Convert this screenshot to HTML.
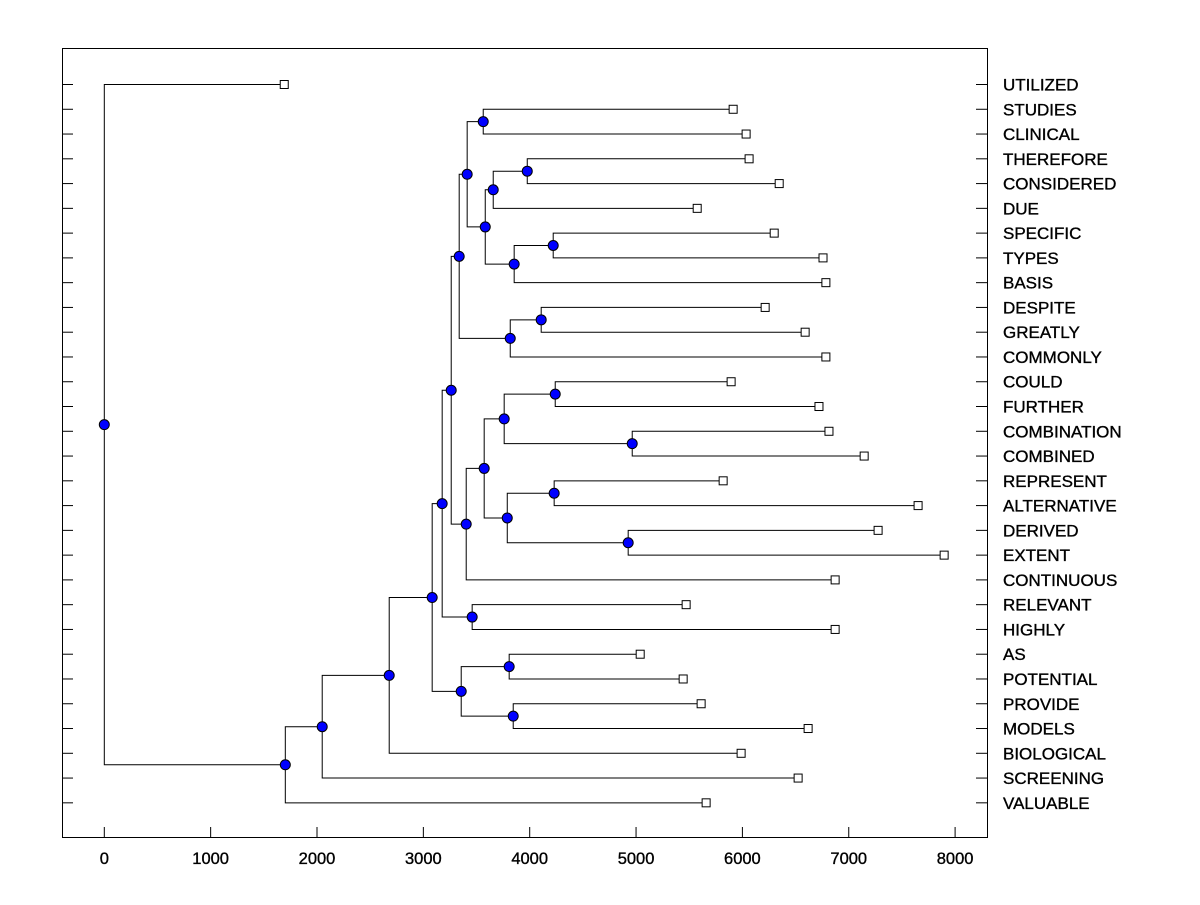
<!DOCTYPE html>
<html><head><meta charset="utf-8"><style>body{margin:0;background:#fff}svg text{font-family:"Liberation Sans",Arial,sans-serif}</style></head>
<body>
<svg id="chart" width="1200" height="900" xmlns="http://www.w3.org/2000/svg">
<rect x="62.5" y="48.5" width="925" height="789" fill="#fff" stroke="#000" stroke-width="1"/>
<g id="g"></g>
</svg>
<script>
const leafNames=["UTILIZED","STUDIES","CLINICAL","THEREFORE","CONSIDERED","DUE","SPECIFIC","TYPES","BASIS","DESPITE","GREATLY","COMMONLY","COULD","FURTHER","COMBINATION","COMBINED","REPRESENT","ALTERNATIVE","DERIVED","EXTENT","CONTINUOUS","RELEVANT","HIGHLY","AS","POTENTIAL","PROVIDE","MODELS","BIOLOGICAL","SCREENING","VALUABLE"];
const leafValues=[1692,5913,6035,6063,6346,5575,6299,6758,6785,6214,6590,6785,5894,6720,6814,7145,5819,7652,7276,7897,6872,5471,6872,5039,5443,5612,6618,5988,6524,5659];
const nodeNames=["root","n1","n2","n3","n4","n6","n7","n8","n5","n10","n9","n11","n13","n15","n16","n17","n19","n18","n20","n14","n21","n12","n22","n23","n25","n26","n24","n27","n28"];
const nodeValues=[0,1702,2049,2679,3083,3356,3807,3845,3177,3459,3262,3337,3412,3563,3582,3657,3977,3854,4221,3817,4108,3403,3572,3760,4240,4964,3789,4230,4926];
const nodeChildren=[["L0","n1"],["n2","L29"],["n3","L28"],["n4","L27"],["n5","n6"],["n7","n8"],["L23","L24"],["L25","L26"],["n9","n10"],["L21","L22"],["n11","n12"],["n13","n14"],["n15","n16"],["L1","L2"],["n17","n18"],["n19","L5"],["L3","L4"],["n20","L8"],["L6","L7"],["n21","L11"],["L9","L10"],["n22","L20"],["n23","n24"],["n25","n26"],["L12","L13"],["L14","L15"],["n27","n28"],["L16","L17"],["L18","L19"]];
const xTicks=[0,1000,2000,3000,4000,5000,6000,7000,8000];
const NS="http://www.w3.org/2000/svg";
const g=document.getElementById('g');
const X=v=>104.3+v*0.10635;
const Y=i=>84.5+i*24.77;
function el(t,a){const e=document.createElementNS(NS,t);for(const k in a)e.setAttribute(k,a[k]);g.appendChild(e);return e;}
xTicks.forEach(t=>{const l=el('line',{x1:X(t),x2:X(t),y1:837,y2:827,stroke:'#000'});


const tx=el('text',{x:X(t),y:864,'text-anchor':'middle','font-size':'16.5',stroke:'#000','stroke-width':'0.35'});tx.textContent=t;

});
leafNames.forEach((n,i)=>{const y=Y(i);
const a=el('line',{x1:62,x2:73,y1:y,y2:y,stroke:'#000'});


const b=el('line',{x1:976,x2:987,y1:y,y2:y,stroke:'#000'});


const t=el('text',{x:1003,y:y+6,'font-size':'17',stroke:'#000','stroke-width':'0.35'});t.textContent=n;

});
function pos(id){if(id[0]=='L'){const i=+id.slice(1);return {x:X(leafValues[i]),y:Y(i)};}
const k=nodeNames.indexOf(id);const c=nodeChildren[k].map(pos);return {x:X(nodeValues[k]),y:(c[0].y+c[1].y)/2};}
const marks=[];
function draw(id){const p=pos(id);if(id[0]=='L'){marks.push(['L',p]);return p;}
const k=nodeNames.indexOf(id);const cs=nodeChildren[k].map(draw);
const e=el('path',{d:`M${cs[0].x},${cs[0].y}H${p.x}V${cs[1].y}H${cs[1].x}`,fill:'none',stroke:'#000'});


marks.push(['N',p]);return p;}
draw('root');
marks.forEach(([t,p])=>{if(t=='L'){const r=el('rect',{x:p.x-4,y:p.y-4,width:8,height:8,fill:'#fff',stroke:'#000'});

}
else{const c=el('circle',{cx:p.x,cy:p.y,r:5,fill:'#0000ff',stroke:'#000'});

}});
</script>
</body></html>
